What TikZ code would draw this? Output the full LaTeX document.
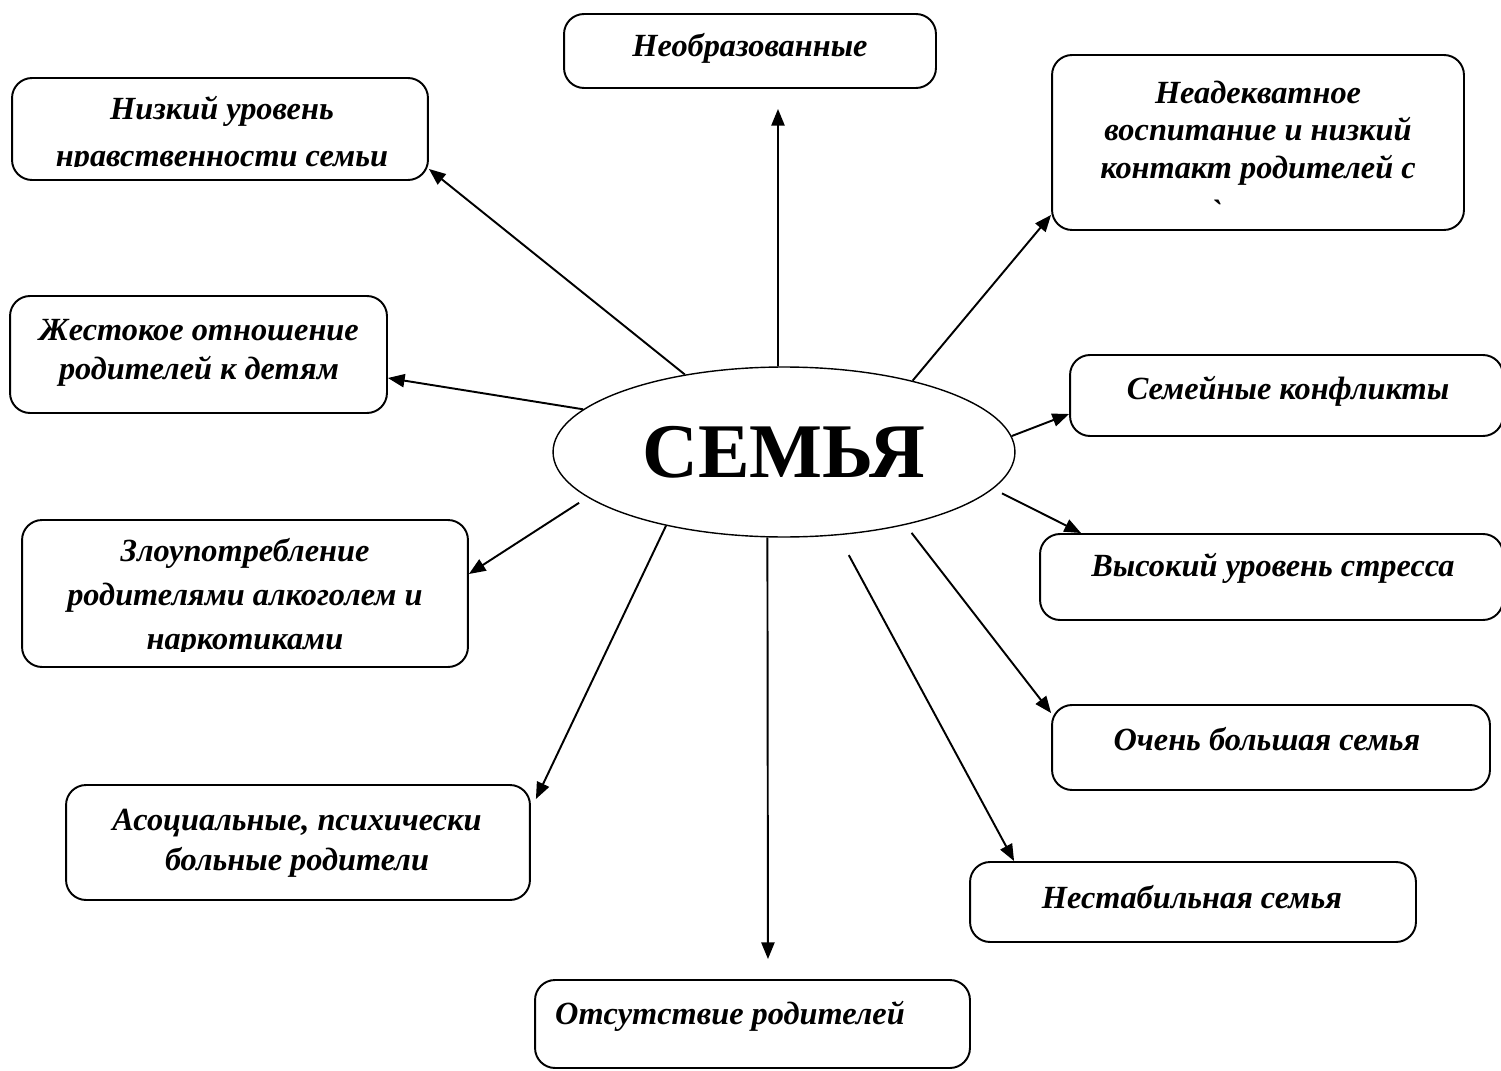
\documentclass[tikz,border=0pt]{standalone}
\usepackage{fontspec}
\setmainfont{Liberation Serif}
\usetikzlibrary{arrows.meta,shapes.geometric}
\tikzset{
  box/.style={draw, line width=1.1pt, rounded corners=0.4cm},
  txt/.style={align=center, inner sep=0pt,
    font=\bfseries\itshape\fontsize{18.4}{#1}\selectfont},
  txt/.default=22pt,
  arr/.style={line width=1.1pt, -{Triangle[length=9.5pt,width=7.5pt]}},
}
\begin{document}
\begin{tikzpicture}[x=0.02cm, y=-0.02cm]
    \useasboundingbox (0,0) rectangle (1501,1071);
    % centre
    \node[ellipse, draw, line width=0.8pt, minimum width=9.24cm, minimum height=3.4cm,
          font=\bfseries\fontsize{44}{50}\selectfont] (fam) at (784,452) {СЕМЬЯ};
    % boxes
    \node[box, minimum width=7.44cm, minimum height=1.48cm] (neobr)  at (750,51)      {};
    \node[box, minimum width=8.32cm, minimum height=2.04cm] (nizk)   at (220,129)     {};
    \node[box, minimum width=8.24cm, minimum height=3.5cm]  (nead)   at (1258,142.5)  {};
    \node[box, minimum width=7.54cm, minimum height=2.34cm] (zhest)  at (198.5,354.5) {};
    \node[box, minimum width=8.66cm, minimum height=1.62cm] (konfl)  at (1286.5,395.5) {};
    \node[box, minimum width=8.92cm, minimum height=2.94cm] (zlo)    at (245,593.5)   {};
    \node[box, minimum width=9.26cm, minimum height=1.72cm] (stress) at (1271.5,577)  {};
    \node[box, minimum width=8.76cm, minimum height=1.7cm]  (bolsh)  at (1271,747.5)  {};
    \node[box, minimum width=9.28cm, minimum height=2.3cm]  (asoc)   at (298,842.5)   {};
    \node[box, minimum width=8.92cm, minimum height=1.6cm]  (nestab) at (1193,902)    {};
    \node[box, minimum width=8.7cm,  minimum height=1.76cm] (otsut)  at (752.5,1024)  {};
    % texts
    \node[txt] (neobr-t) at (750,48) {Необразованные};
    \begin{scope}
      \clip (nizk.north west) rectangle ([yshift=0.28cm]nizk.south east);
      \node[txt=27pt] (nizk-t) at (222,135) {Низкий уровень\\нравственности семьи};
    \end{scope}
    \node[txt=21.3pt] (nead-t) at (1258,133) {Неадекватное\\воспитание и низкий\\контакт родителей с};
    \node[txt] (nead-m) at (1216,211) {\textasciigrave};
    \node[txt] (zhest-t) at (199,353) {Жестокое отношение\\родителей к детям};
    \node[txt] (konfl-t) at (1288,391) {Семейные конфликты};
    \begin{scope}
      \clip (zlo.north west) rectangle ([yshift=0.32cm]zlo.south east);
      \node[txt=25pt] (zlo-t) at (245,597) {Злоупотребление\\родителями алкоголем и\\наркотиками};
    \end{scope}
    \node[txt] (stress-t) at (1273,568) {Высокий уровень стресса};
    \node[txt] (bolsh-t) at (1267,739) {Очень большая семья};
    \node[txt=22.8pt] (asoc-t) at (297,843) {Асоциальные, психически\\больные родители};
    \node[txt] (nestab-t) at (1192,897) {Нестабильная семья};
    \node[txt] (otsut-t) at (730,1016) {Отсутствие родителей};
    % arrows
    \draw[arr, shorten >=0.4cm] (fam.94) -- ([xshift=0.56cm]neobr.south);
    \draw[arr] (fam.142) -- ([yshift=0.24cm]nizk.south east);
    \draw[arr] (fam.29) -- ([yshift=0.32cm]nead.south west);
    \draw[arr] (fam.168.6) -- ([yshift=-0.47cm]zhest.east);
    \draw[arr] (fam.4.5) -- ([yshift=-0.37cm]konfl.west);
    \draw[arr, shorten <=0.2cm] (fam.193.7) -- ([yshift=0.39cm]zlo.east);
    \draw[arr, shorten <=0.2cm] (fam.350.3) -- ([xshift=0.84cm]stress.north west);
    \draw[arr] (fam.212.8) -- ([xshift=0.1cm,yshift=-0.3cm]asoc.north east);
    \draw[arr, shorten >=0.4cm] (fam.259) -- ([xshift=0.31cm]otsut.north);
    \draw[arr, shorten <=0.45cm] (fam.303.7) -- ([xshift=0.9cm]nestab.north west);
    \draw[arr, shorten <=0.2cm] (fam.329.6) -- ([yshift=-0.18cm]bolsh.north west);
\end{tikzpicture}
\end{document}
